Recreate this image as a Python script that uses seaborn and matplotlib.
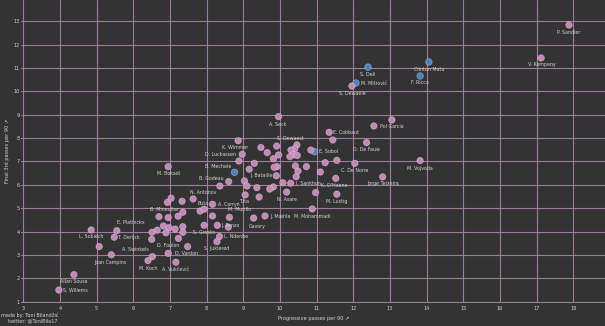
import matplotlib
matplotlib.use("Agg")
import matplotlib.pyplot as plt
import seaborn as sns
import pandas as pd

# ---- data: progressive passes vs final-third passes (per 90) ----
players = [
    "P. Sandler", "V. Kompany", "Clinton Mata", "F. Ricca", "S. Deli", "M. Mitrović",
    "S. Dewaele", "A. Seck", "Pol Garcia", "E. Cobbaut", "D. De Fauw", "E. Sobol",
    "M. Vojvoda", "C. De Norre", "Jorge Teixeira", "K. D'Haene", "M. Lustig",
    "M. Mohammadi", "N. Asare", "I. Sankhon", "J. Bataille", "B. Mechele",
    "D. Luckassen", "K. Wimmer", "S. Dewaest", "B. Godeau", "N. Antonov", "Buta",
    "A. Corryn", "Tuta", "M. Murillo", "J. Mæhle", "J. Panzo", "Gavory", "S. Groeks",
    "L. Ndenbe", "S. Juklerød", "M. Bokadi", "B. Mineulter", "E. Platinckx",
    "T. Derijck", "L. Sobiech", "A. Swinkels", "Joan Campins", "D. Foulon",
    "D. Vardon", "M. Koch", "A. Vukčević", "Allan Sousa", "S. Willems",
] + [""] * 54

prog_passes = [
    17.88, 17.12, 14.06, 13.82, 12.40, 12.07, 11.96, 9.96, 13.05, 11.34, 12.36, 10.94,
    13.82, 12.04, 12.80, 11.52, 11.55, 10.88, 10.18, 10.29, 9.90, 8.76, 8.97, 8.86,
    10.46, 8.60, 7.63, 7.82, 8.16, 9.05, 8.62, 9.59, 8.29, 9.28, 7.93, 8.35, 8.28,
    6.95, 6.93, 5.55, 5.48, 4.85, 6.52, 5.40, 7.23, 6.95, 6.40, 7.16, 4.38, 3.97,
    12.56, 11.44, 10.84, 11.55, 11.23, 11.10, 10.72, 10.97, 10.08, 10.44, 10.49,
    10.42, 9.92, 9.84, 9.82, 9.96, 9.65, 9.48, 9.91, 10.40, 10.30, 10.35, 10.47,
    10.27, 8.88, 9.30, 9.16, 8.36, 9.03, 9.10, 9.37, 9.82, 9.72, 9.43, 7.93, 8.16,
    8.59, 7.03, 7.33, 6.70, 6.95, 7.22, 7.35, 6.82, 6.97, 7.14, 7.35, 7.35, 6.65,
    6.51, 6.89, 6.50, 7.48, 5.07,
]

final_third = [
    12.84, 11.43, 11.26, 10.66, 11.04, 10.36, 10.23, 8.92, 8.78, 8.25, 7.81, 7.42,
    7.04, 6.92, 6.34, 6.28, 5.60, 4.97, 5.69, 6.07, 6.39, 6.54, 7.31, 7.89, 7.71,
    6.14, 5.40, 4.88, 5.17, 5.57, 4.61, 4.67, 4.27, 4.58, 4.27, 3.79, 3.57, 6.78,
    5.25, 4.04, 3.76, 4.07, 2.93, 3.01, 3.71, 3.07, 2.76, 2.69, 2.16, 1.50,
    8.52, 7.92, 7.49, 7.05, 6.95, 6.55, 6.78, 5.67, 6.09, 6.35, 6.59, 6.81, 6.78,
    6.75, 7.12, 7.28, 7.38, 7.60, 7.66, 7.54, 7.49, 7.28, 7.26, 7.21, 7.02, 6.92,
    6.67, 5.95, 6.17, 5.95, 5.88, 5.91, 5.82, 5.48, 4.96, 4.67, 4.19, 5.43, 5.30,
    4.64, 4.60, 4.66, 4.83, 4.24, 4.17, 4.11, 4.21, 3.97, 4.06, 3.97, 3.95, 3.67,
    3.36, 3.36,
]

club_brugge = {"Clinton Mata", "F. Ricca", "S. Deli", "M. Mitrović", "E. Sobol", "B. Mechele"}

x_ticks = list(range(3, 19))
y_ticks = list(range(1, 14))

# label placement: (dx, dy) in pixels from the dot, horizontal alignment
label_pos = {
    "P. Sandler": (-0.7, -7.3, "center"), "V. Kompany": (0.3, -6.5, "center"),
    "Clinton Mata": (0, -7.3, "center"), "F. Ricca": (0, -6.7, "center"),
    "S. Deli": (0, -7.7, "center"), "M. Mitrović": (5, -0.3, "left"),
    "S. Dewaele": (0, -7.3, "center"), "A. Seck": (-0.4, -7.6, "center"),
    "Pol Garcia": (0, -6.7, "center"), "E. Cobbaut": (4, 0, "left"),
    "D. De Fauw": (0, -7.3, "center"), "E. Sobol": (5, 0, "left"),
    "M. Vojvoda": (0, -7.6, "center"), "C. De Norre": (0, -7.4, "center"),
    "Jorge Teixeira": (0.6, -7, "center"), "K. D'Haene": (-1, -7.4, "center"),
    "M. Lustig": (0, -7.4, "center"), "M. Mohammadi": (0, -7.7, "center"),
    "N. Asare": (0.6, -7.8, "center"), "I. Sankhon": (5, 0, "left"),
    "J. Bataille": (-4, 0, "right"), "B. Mechele": (-3, 5.6, "right"),
    "D. Luckassen": (-6, 0, "right"), "K. Wimmer": (-3.3, -7, "center"),
    "S. Dewaest": (-7, 6.3, "center"), "B. Godeau": (-5, 2.7, "right"),
    "N. Antonov": (10, 6.7, "center"), "Buta": (2.8, 7.7, "center"),
    "A. Corryn": (5, 0, "left"), "Tuta": (0, -6.7, "center"),
    "M. Murillo": (-1, 8.3, "left"), "J. Mæhle": (5, -0.5, "left"),
    "J. Panzo": (4, 0, "left"), "Gavory": (3.2, -8, "center"),
    "S. Groeks": (0, -7, "center"), "L. Ndenbe": (4, 0, "left"),
    "S. Juklerød": (0, -7, "center"), "M. Bokadi": (0, -6.6, "center"),
    "B. Mineulter": (-3, -6.7, "center"), "E. Platinckx": (0, 8, "left"),
    "T. Derijck": (4, 0, "left"), "L. Sobiech": (0, -6.7, "center"),
    "A. Swinkels": (-4, 7, "right"), "Joan Campins": (-0.8, -7.9, "center"),
    "D. Foulon": (0.7, -7.4, "right"), "D. Vardon": (7, 0, "left"),
    "M. Koch": (0, -7.6, "center"), "A. Vukčević": (0, -7, "center"),
    "Allan Sousa": (0, -7, "center"), "S. Willems": (4, 0, "left"),
}

df = pd.DataFrame({
    "player": players,
    "prog": prog_passes,
    "final3": final_third,
})
df["team"] = ["Club Brugge" if p in club_brugge else "Other" for p in df["player"]]

BG = "#333333"
GRID = "#a07c98"
TXT = "#d4d4d4"

sns.set_style("darkgrid", {
    "axes.facecolor": BG, "figure.facecolor": BG, "grid.color": GRID,
    "axes.edgecolor": BG, "text.color": TXT, "xtick.color": TXT, "ytick.color": TXT,
    "axes.labelcolor": TXT,
})
plt.rcParams["font.family"] = ["DejaVu Sans"]

fig = plt.figure(figsize=(6.05, 3.26), dpi=100)
ax = fig.add_axes([0.0355, 0.0709, 0.9668, 0.9298])

sns.scatterplot(
    data=df, x="prog", y="final3", hue="team",
    palette={"Other": "#c586b8", "Club Brugge": "#4a80c4"},
    hue_order=["Other", "Club Brugge"],
    s=22, edgecolor=(1, 1, 1, 0.35), linewidth=0.6, legend=False, ax=ax, zorder=3,
)

for name, xv, yv in zip(df["player"], df["prog"], df["final3"]):
    if not name:
        continue
    dx, dy, ha = label_pos[name]
    ax.annotate(name, (xv, yv), xytext=(dx, dy), textcoords="offset pixels",
                ha=ha, va="center", fontsize=3.45, color=TXT, zorder=4)

ax.set_xlim(2.95, 18.9)
ax.set_ylim(0.95, 13.92)
ax.set_xticks(x_ticks)
ax.set_yticks(y_ticks)
ax.grid(True, color=GRID, linewidth=0.8)
ax.set_axisbelow(True)
ax.tick_params(axis="both", length=0, labelsize=3.6, colors=TXT)
ax.tick_params(axis="x", pad=2.5)
ax.tick_params(axis="y", pad=1)
for s in ax.spines.values():
    s.set_visible(False)

ax.set_xlabel("Progressive passes per 90 ↗", fontsize=3.6, labelpad=3)
ax.set_ylabel("Final 3rd passes per 90 ↗", fontsize=3.6, labelpad=3)

fig.text(58 / 605, 1 - 315 / 326, "made by: Toni Bilandžić", ha="right", va="center",
         fontsize=3.5, color=TXT)
fig.text(58 / 605, 1 - 321 / 326, "twitter: @ToniBila17", ha="right", va="center",
         fontsize=3.5, color=TXT)

fig.savefig("out.png", dpi=100, facecolor=BG)
